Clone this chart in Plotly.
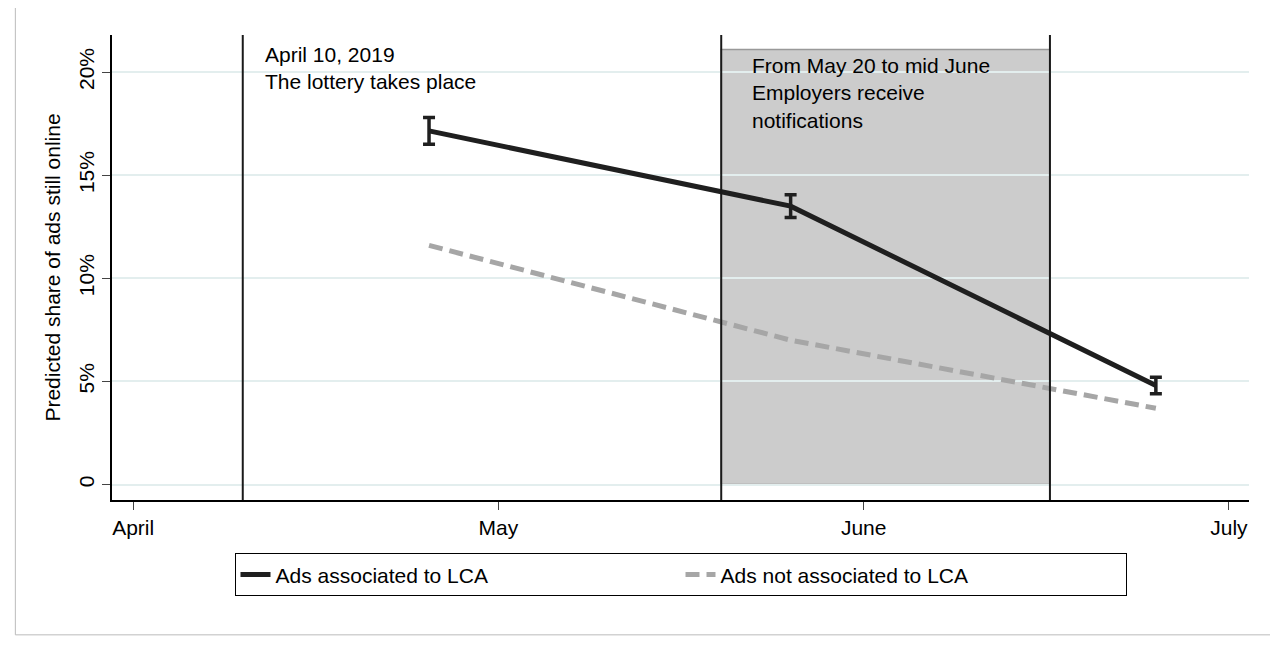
import plotly.graph_objects as go

month_labels = ["April", "May", "June", "July"]
month_pos = [0, 1, 2, 3]
x_pts = [0.81, 1.80, 2.80]
lca = [17.15, 13.5, 4.8]
lca_err = [0.65, 0.55, 0.4]
nolca = [11.6, 7.0, 3.7]
lottery_x = 0.3
notif_start, notif_end = 1.61, 2.51

fig = go.Figure()
fig.add_shape(type="rect", xref="x", yref="y", x0=notif_start, x1=notif_end, y0=0, y1=21.1,
              fillcolor="#cccccc", line=dict(color="#999999", width=1.5), layer="below")
for xv in [lottery_x, notif_start, notif_end]:
    fig.add_shape(type="line", xref="x", yref="paper", x0=xv, x1=xv, y0=0, y1=1,
                  line=dict(color="#1a1a1a", width=2))
fig.add_trace(go.Scatter(x=x_pts, y=lca, mode="lines", name="Ads associated to LCA",
                         line=dict(color="#1f1f1f", width=5),
                         error_y=dict(type="data", array=lca_err, color="#1f1f1f", thickness=3.5, width=6)))
fig.add_trace(go.Scatter(x=x_pts, y=nolca, mode="lines", name="Ads not associated to LCA",
                         line=dict(color="#a6a6a6", width=5, dash="14px,7px")))
fig.add_annotation(x=lottery_x + 0.055, y=21.5, xanchor="left", yanchor="top", align="left", showarrow=False,
                   text="April 10, 2019<br>The lottery takes place", font=dict(size=21, color="black"))
fig.add_annotation(x=notif_start + 0.08, y=21.0, xanchor="left", yanchor="top", align="left", showarrow=False,
                   text="From May 20 to mid June<br>Employers receive<br>notifications", font=dict(size=21, color="black"))
fig.add_shape(type="rect", xref="paper", yref="paper", x0=-0.085, x1=1.035, y0=-0.29, y1=1.06,
              line=dict(color="#bbbbbb", width=1))
fig.update_layout(
    width=1278, height=645, paper_bgcolor="white", plot_bgcolor="white",
    margin=dict(l=104, r=37, t=27, b=153, autoexpand=False),
    font=dict(family="Liberation Sans, Arial", size=21, color="black"),
    xaxis=dict(range=[-0.058, 3.055], tickvals=month_pos, ticktext=month_labels, showgrid=False,
               showline=True, linecolor="black", linewidth=1.5, ticks="outside", ticklen=8, zeroline=False,
               automargin=False, tickfont=dict(size=21)),
    yaxis=dict(range=[-0.75, 21.8], tickvals=[5, 10, 15, 20, 0], ticktext=["5%", "10%", "15%", "20%", "0"],
               tickangle=-90, showgrid=True, gridcolor="#e3eeee", gridwidth=1.5, zeroline=False,
               showline=True, linecolor="black", linewidth=1.5, ticks="outside", ticklen=8, automargin=False,
               tickfont=dict(size=21),
               title=dict(text="Predicted share of ads still online", font=dict(size=21), standoff=8)),
    legend=dict(orientation="h", x=0.5, xanchor="center", y=-0.115, yanchor="top",
                bordercolor="black", borderwidth=1, font=dict(size=21), entrywidth=400, tracegroupgap=0),
)
fig.write_html("out.html")
